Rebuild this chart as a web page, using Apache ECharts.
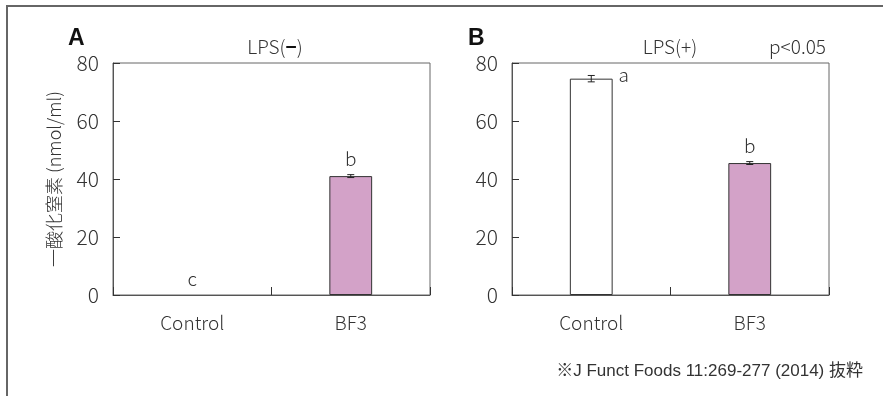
<!DOCTYPE html>
<html>
<head>
<meta charset="utf-8">
<script src="https://cdn.jsdelivr.net/npm/echarts@6/dist/echarts.min.js"></script>
<style>
  html, body { margin: 0; padding: 0; background: #fff; }
  #chart { width: 883px; height: 396px; }
</style>
</head>
<body>
<div id="chart"></div>
<script>
// data
const categories = ['Control', 'BF3'];
const yTicks = [0, 20, 40, 60, 80];
const panelNames = ['A', 'B'];
const panelTitles = ['LPS(−)', 'LPS(+)'];
const valuesA = [0, 41.0];
const errorsA = [0, 0.5];
const lettersA = ['c', 'b'];
const valuesB = [74.6, 45.5];
const errorsB = [1.1, 0.5];
const lettersB = ['a', 'b'];
const yName = '一酸化窒素 (nmol/ml)';
const pNote = 'p<0.05';
const source = '※J Funct Foods 11:269-277 (2014) 抜粋';

const barColors = ['#ffffff', '#d3a2c8'];
const jpFont = '"Noto Sans CJK JP", "Noto Sans", sans-serif';
const textColor = '#333';
// where the letter sits: above the error bar or to the right of the bar
const letterPlace = [['top', 'top'], ['right', 'top']];

const chart = echarts.init(document.getElementById('chart'));

const panels = [
  { values: valuesA, errors: errorsA, letters: lettersA, left: 113 },
  { values: valuesB, errors: errorsB, letters: lettersB, left: 512 }
];

function errorSeries(p, idx) {
  return {
    type: 'custom',
    xAxisIndex: idx,
    yAxisIndex: idx,
    z: 5,
    data: p.values.map((v, i) => [i, v, p.errors[i], p.letters[i]]),
    renderItem(params, api) {
      const i = api.value(0);
      const v = api.value(1);
      const e = api.value(2);
      const top = api.coord([i, v + e]);
      const bot = api.coord([i, v - e]);
      const cap = 3.5;
      const half = api.size([1, 0])[0] * 0.135;
      const children = [];
      if (e > 0) {
        const st = { stroke: '#222', lineWidth: 1 };
        children.push(
          { type: 'line', shape: { x1: top[0], y1: top[1], x2: bot[0], y2: bot[1] }, style: st },
          { type: 'line', shape: { x1: top[0] - cap, y1: top[1], x2: top[0] + cap, y2: top[1] }, style: st },
          { type: 'line', shape: { x1: bot[0] - cap, y1: bot[1], x2: bot[0] + cap, y2: bot[1] }, style: st }
        );
      }
      const place = letterPlace[idx][i];
      const lx = place === 'right' ? top[0] + half + 11 : top[0];
      const ly = place === 'right' ? top[1] - 1 : top[1] - 16;
      children.push({
        type: 'text',
        style: {
          x: lx, y: ly, text: api.value(3),
          fill: textColor, font: '300 19px ' + jpFont,
          align: 'center', verticalAlign: 'middle'
        }
      });
      return { type: 'group', children };
    }
  };
}

// titles: the minus sign is drawn heavier in the figure
const titleRich = {
  n: { font: '300 19px ' + jpFont, fill: textColor },
  m: { font: 'bold 19px ' + jpFont, fill: '#111' }
};
function titleText(t) {
  return t.split('−').map(s => (s ? '{n|' + s + '}' : '')).join('{m|−}');
}

const option = {
  animation: false,
  backgroundColor: '#fff',
  grid: panels.map(p => ({
    left: p.left, top: 63, width: 317, height: 232,
    show: true, borderColor: '#666', borderWidth: 1, backgroundColor: 'transparent'
  })),
  xAxis: panels.map((p, idx) => ({
    type: 'category',
    gridIndex: idx,
    data: categories,
    axisLine: { show: true, lineStyle: { color: '#555' } },
    axisTick: { show: true, inside: true, length: 8, lineStyle: { color: '#333' } },
    axisLabel: { margin: 18, fontSize: 19, fontWeight: 300, color: textColor, fontFamily: jpFont }
  })),
  yAxis: panels.map((p, idx) => ({
    type: 'value',
    gridIndex: idx,
    min: yTicks[0],
    max: yTicks[yTicks.length - 1],
    interval: yTicks[1] - yTicks[0],
    name: idx === 0 ? yName : '',
    nameLocation: 'middle',
    nameRotate: 90,
    nameGap: 50,
    nameTextStyle: { fontSize: 18, fontWeight: 300, color: textColor, fontFamily: jpFont },
    splitLine: { show: false },
    axisLine: { show: true, lineStyle: { color: '#555' } },
    axisTick: { show: true, inside: true, length: 7, lineStyle: { color: '#333' } },
    axisLabel: { margin: 14, fontSize: 21, fontWeight: 300, color: textColor, fontFamily: jpFont }
  })),
  series: panels.flatMap((p, idx) => [
    {
      type: 'bar',
      xAxisIndex: idx,
      yAxisIndex: idx,
      barWidth: '27%',
      data: p.values.map((v, i) => ({
        value: v,
        itemStyle: { color: barColors[i], borderColor: '#333', borderWidth: v > 0 ? 1 : 0 }
      }))
    },
    errorSeries(p, idx)
  ]),
  graphic: [
    // open frame round the figure
    { type: 'polyline', shape: { points: [[7, 396], [7, 6], [883, 6]] }, style: { stroke: '#666', lineWidth: 2, fill: null } },
    { type: 'text', left: 68, top: 27, style: { text: panelNames[0], font: 'bold 23px "Liberation Sans", Arial, sans-serif', fill: '#111' } },
    { type: 'text', left: 468, top: 27, style: { text: panelNames[1], font: 'bold 23px "Liberation Sans", Arial, sans-serif', fill: '#111' } },
    { type: 'text', x: 275, y: 47, style: { text: titleText(panelTitles[0]), rich: titleRich, align: 'center', verticalAlign: 'middle' } },
    { type: 'text', x: 670, y: 47, style: { text: titleText(panelTitles[1]), rich: titleRich, align: 'center', verticalAlign: 'middle' } },
    { type: 'text', x: 826, y: 47, style: { text: pNote, font: '300 19px ' + jpFont, fill: textColor, align: 'right', verticalAlign: 'middle' } },
    { type: 'text', x: 863, y: 371, style: { text: source, font: '17px "Liberation Sans", "Noto Sans CJK JP", sans-serif', fill: textColor, align: 'right', verticalAlign: 'middle' } }
  ]
};

chart.setOption(option);
window.addEventListener('resize', () => chart.resize());
</script>
</body>
</html>
